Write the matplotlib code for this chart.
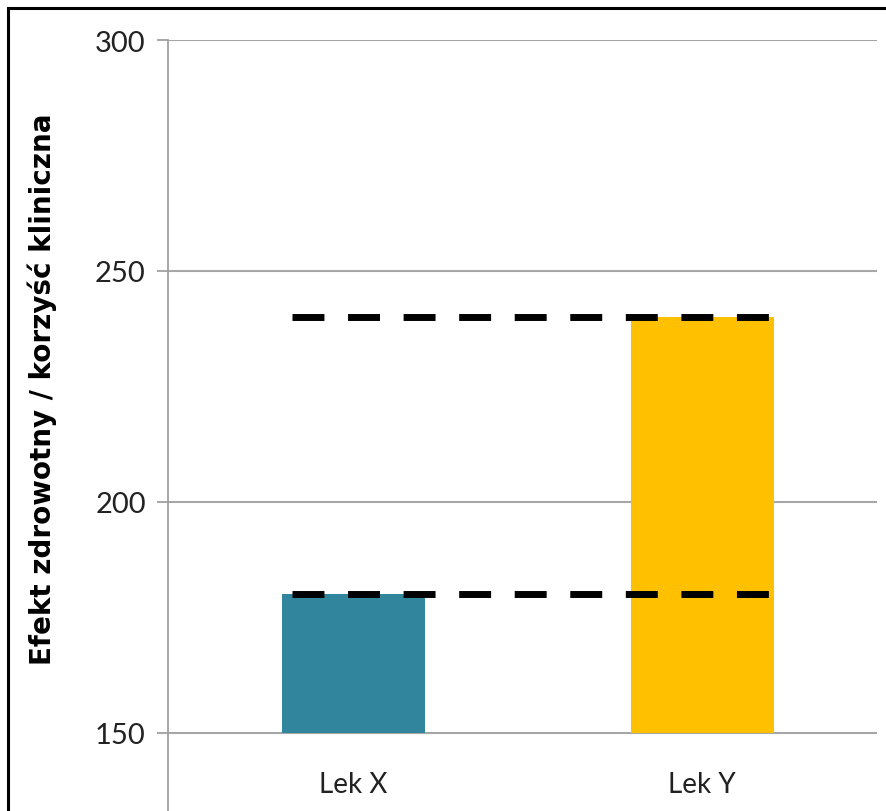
import matplotlib
matplotlib.use("Agg")
import matplotlib.pyplot as plt
from matplotlib.patches import Rectangle

# data
drugs = ["Lek X", "Lek Y"]
effect = [180, 240]
colors = ["#31859C", "#FFC000"]
ref_levels = [180, 240]
y_ticks = [150, 200, 250, 300]
y_label = "Efekt zdrowotny / korzyść kliniczna"

plt.rcParams['font.family'] = ['Lato', 'DejaVu Sans']

fig = plt.figure(figsize=(8.86, 8.12), dpi=100)
ax = fig.add_axes([168/886, 0.0, (877-168)/886, 1 - 41/812])

base = 150
x = list(range(len(drugs)))
ax.bar(x, [v - base for v in effect], bottom=base, width=0.41, color=colors, zorder=2)

# dashed reference lines
for lvl in ref_levels:
    ax.plot([-0.176, 1.205], [lvl, lvl], color="black", lw=5.0,
            linestyle=(0, (4.6, 3.4)), dash_capstyle="butt", zorder=3)

ax.set_xlim(-0.53, 1.5)
ax.set_ylim(133.1, 300)
ax.set_yticks(y_ticks)
ax.set_yticklabels([str(t) for t in y_ticks], fontsize=21, color="#222222")
ax.tick_params(axis="y", length=8, width=1.3, color="#A0A0A0", pad=8)
ax.set_xticks([])
ax.grid(axis="y", color="#A6A6A6", lw=1.5, zorder=1)
ax.set_axisbelow(True)
for s in ["top", "right", "bottom"]:
    ax.spines[s].set_visible(False)
ax.spines["left"].set_color("#A0A0A0")
ax.spines["left"].set_linewidth(1.3)

for i, name in enumerate(drugs):
    ax.annotate(name, (i, base), xytext=(0, -38), textcoords="offset pixels",
                ha="center", va="top", fontsize=20, color="#222222")

fig.text(42/886, 1 - 389/812, y_label, rotation=90, ha="center", va="center",
         fontsize=20, fontweight="bold", family="DejaVu Sans")

# outer frame (top and left visible)
fig.patches.append(Rectangle((8/886, -0.1), 1.2, 1 - 9/812 + 0.1, transform=fig.transFigure,
                             fill=False, edgecolor="black", lw=2.2))

fig.savefig("out.png", dpi=100)
